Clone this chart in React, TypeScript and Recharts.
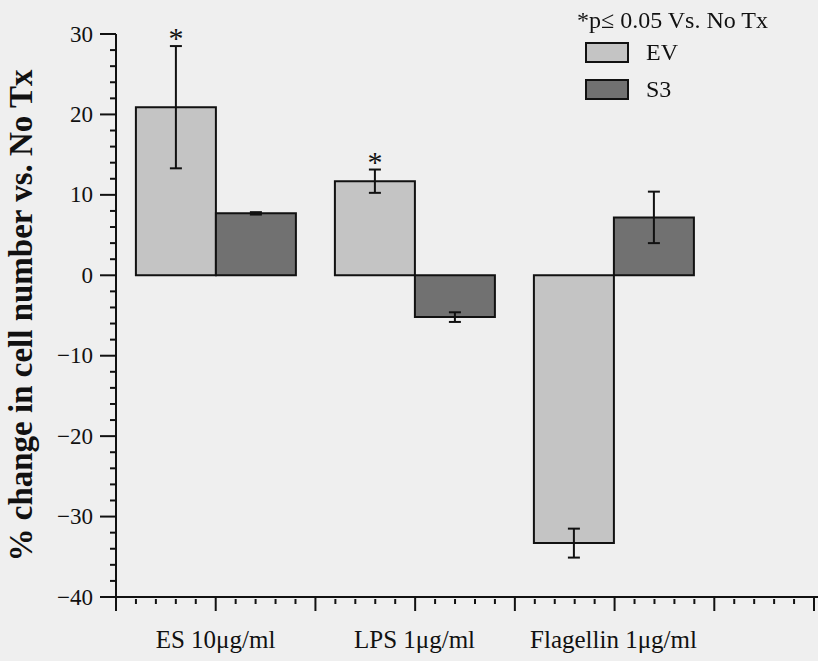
import React from 'react';
import { BarChart, Bar, XAxis, YAxis, ErrorBar, LabelList, Label, Legend } from 'recharts';

const categories = ['ES 10μg/ml', 'LPS 1μg/ml', 'Flagellin 1μg/ml'];
const evValues = [20.9, 11.7, -33.3];
const evErrors = [7.6, 1.45, 1.8];
const s3Values = [7.7, -5.2, 7.2];
const s3Errors = [0.15, 0.6, 3.2];
const evSignificant = [true, true, false];

// y ticks every 2 units, labelled every 10
const yTicks = [-40, -38, -36, -34, -32, -30, -28, -26, -24, -22, -20, -18, -16, -14, -12, -10, -8, -6, -4, -2, 0, 2, 4, 6, 8, 10, 12, 14, 16, 18, 20, 22, 24, 26, 28, 30];
// decorative x ruler: minor every unit, major every 5
const xRulerTicks = [0, 1, 2, 3, 4, 5, 6, 7, 8, 9, 10, 11, 12, 13, 14, 15, 16, 17, 18, 19, 20, 21, 22, 23, 24, 25, 26, 27, 28, 29, 30, 31, 32, 33, 34, 35];

const EV_COLOR = '#c4c4c4';
const S3_COLOR = '#717171';
const INK = '#111';
const FONT = '"Liberation Serif", "DejaVu Serif", serif';

const data = categories.map((name, i) => ({
  name,
  ev: evValues[i],
  evErr: evErrors[i],
  s3: s3Values[i],
  s3Err: s3Errors[i],
}));

const fmtY = (v: number) => (v < 0 ? '\u2212' + Math.abs(v) : String(v));

const YTick = (props: any) => {
  const { x, y, payload } = props;
  const major = payload.value % 10 === 0;
  return (
    <g>
      <line x1={x - (major ? 16 : 6)} y1={y} x2={x} y2={y} stroke={INK} strokeWidth={2} />
      {major && (
        <text x={x - 23} y={y} textAnchor="end" dominantBaseline="central" fontSize={23} fontFamily={FONT} fill={INK}>
          {fmtY(payload.value)}
        </text>
      )}
    </g>
  );
};

const XRulerTick = (props: any) => {
  const { x, y, payload } = props;
  const major = payload.value % 5 === 0;
  return major ? (
    <line x1={x} y1={y - 1} x2={x} y2={y + 14} stroke={INK} strokeWidth={2} />
  ) : (
    <line x1={x} y1={y + 2} x2={x} y2={y + 7} stroke={INK} strokeWidth={2} />
  );
};

const renderStar = (props: any) => {
  const { x, y, width, height, index } = props;
  if (!evSignificant[index]) return null;
  const ppu = Math.abs(height / evValues[index]);
  const top = Math.min(y, y + height) - evErrors[index] * ppu;
  return (
    <text key={`star-${index}`} x={x + width / 2} y={top + 2} textAnchor="middle" fontSize={30} fontFamily={FONT} fill={INK}>
      *
    </text>
  );
};

const renderYLabel = (props: any) => {
  const vb = props.viewBox;
  const cx = vb.x + 21;
  const cy = vb.y + vb.height / 2;
  return (
    <text
      x={cx}
      y={cy}
      transform={`rotate(-90, ${cx}, ${cy})`}
      textAnchor="middle"
      dominantBaseline="central"
      fontSize={33}
      fontWeight="bold"
      fontFamily={FONT}
      fill={INK}
    >
      % change in cell number vs. No Tx
    </text>
  );
};

const renderLegend = (props: any) => {
  const { payload } = props;
  return (
    <div style={{ fontFamily: FONT, color: INK, fontSize: 24, textAlign: 'left' }}>
      <div style={{ lineHeight: '28px', marginLeft: -8 }}>*p≤ 0.05 Vs. No Tx</div>
      {payload.map((p: any) => (
        <div key={p.value} style={{ display: 'flex', alignItems: 'center', height: 37 }}>
          <span
            style={{
              display: 'inline-block',
              width: 40,
              height: 17,
              background: p.color,
              border: `2px solid ${INK}`,
              marginRight: 17,
            }}
          />
          <span>{p.value}</span>
        </div>
      ))}
    </div>
  );
};

export default function App() {
  return (
    <div style={{ position: 'fixed', top: 0, left: 0, width: 818, height: 661, background: '#efefef' }}>
      <BarChart
        width={818}
        height={661}
        data={data}
        margin={{ top: 34, right: 0, bottom: 14, left: 0 }}
        barCategoryGap="10%"
        barGap={0}
      >
        <XAxis
          xAxisId="b-cat"
          dataKey="name"
          height={49}
          padding={{ left: 0, right: 105 }}
          axisLine={false}
          tickLine={false}
          tickSize={6}
          tickMargin={26}
          tick={{ fontSize: 25, fontFamily: FONT, fill: INK }}
        />
        <XAxis
          xAxisId="a-ruler"
          type="number"
          dataKey={() => 0}
          domain={[0, 35.2]}
          allowDataOverflow
          ticks={xRulerTicks}
          interval={0}
          tick={(p: any) => <XRulerTick {...p} />}
          tickLine={false}
          tickSize={0}
          tickMargin={0}
          height={1}
          stroke={INK}
          strokeWidth={2}
        />
        <YAxis
          yAxisId="main"
          domain={[-40, 30]}
          ticks={yTicks}
          interval={0}
          width={116}
          tickSize={0}
          tickMargin={0}
          tickLine={false}
          tick={<YTick />}
          stroke={INK}
          strokeWidth={2}
        >
          <Label content={renderYLabel} />
        </YAxis>
        <Legend
          content={renderLegend}
          layout="vertical"
          verticalAlign="middle"
          align="center"
          wrapperStyle={{ position: 'absolute', top: 6, left: 585, width: 240 }}
        />
        <Bar
          xAxisId="b-cat"
          yAxisId="main"
          dataKey="ev"
          name="EV"
          fill={EV_COLOR}
          stroke={INK}
          strokeWidth={2}
          isAnimationActive={false}
        >
          <ErrorBar dataKey="evErr" width={6} stroke={INK} strokeWidth={2} />
          <LabelList dataKey="ev" content={renderStar} />
        </Bar>
        <Bar
          xAxisId="b-cat"
          yAxisId="main"
          dataKey="s3"
          name="S3"
          fill={S3_COLOR}
          stroke={INK}
          strokeWidth={2}
          isAnimationActive={false}
        >
          <ErrorBar dataKey="s3Err" width={6} stroke={INK} strokeWidth={2} />
        </Bar>
      </BarChart>
    </div>
  );
}
